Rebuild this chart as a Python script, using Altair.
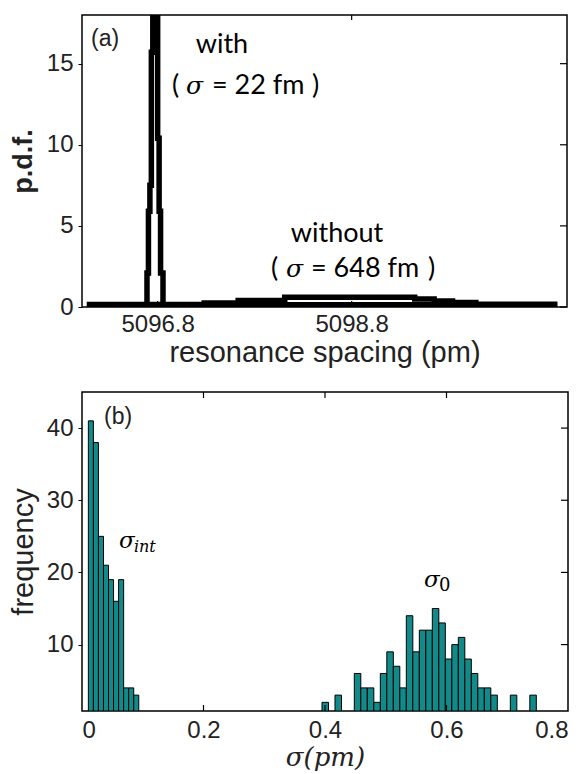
import altair as alt
import pandas as pd

# ---------------- panel (a) data ----------------
a_domain = [5096.02, 5101.02]
a_xticks = [5096.8, 5098.8]
a_yticks = [0, 5, 10, 15]

with_x = [5096.07, 5096.69, 5096.705, 5096.72, 5096.735, 5096.75, 5096.80, 5096.815, 5096.83, 5096.855, 5100.92]
with_y = [0.14, 2.1, 5.9, 7.5, 15.7, 19.0, 10.4, 5.9, 2.1, 0.14, 0.14]
without_x = [5096.07, 5097.28, 5097.63, 5098.11, 5099.45, 5099.65, 5099.84, 5100.08, 5100.92]
without_y = [0.15, 0.25, 0.40, 0.60, 0.50, 0.37, 0.27, 0.17, 0.17]

# ---------------- panel (b) data ----------------
b_xticks = [0, 0.2, 0.4, 0.6, 0.8]
b_yticks = [10, 20, 30, 40]
int_centers = [0.0146, 0.0229, 0.0312, 0.0395, 0.0478, 0.0561, 0.0644, 0.0727, 0.0810, 0.0893]
int_counts = [41, 38, 25, 21, 19, 16, 19, 4, 4, 3]
int_width = 0.0083
zero_centers = [0.4004, 0.4218, 0.4536, 0.4643, 0.4750, 0.4857, 0.4964, 0.5071, 0.5178, 0.5285,
                0.5392, 0.5499, 0.5606, 0.5713, 0.5820, 0.5927, 0.6034, 0.6141, 0.6248, 0.6355,
                0.6462, 0.6569, 0.6676, 0.6783, 0.7104, 0.7425]
zero_counts = [2, 3, 6, 4, 4, 2, 6, 9, 7, 4,
               14, 9, 12, 12, 15, 13, 8, 10, 11, 8,
               6, 4, 4, 3, 3, 3]
zero_width = 0.0107

BAR_COLOR = "#138a8a"
LABEL_COLOR = "#222222"

W_A, H_A = 485, 292
W_B, H_B = 486, 319

# ---------------- shared scales / axes ----------------
xa = alt.Scale(domain=a_domain, nice=False, zero=False)
ya = alt.Scale(domain=[0, 18], nice=False)
xb = alt.Scale(domain=[0, 0.8], nice=False)
yb = alt.Scale(domain=[0.8, 45], nice=False, zero=False)

common = dict(domain=False, grid=False, labelFontSize=24, labelColor=LABEL_COLOR,
              titleColor=LABEL_COLOR, labelFont="Liberation Sans")
ax_xa = alt.Axis(values=a_xticks, format=".1f", title="resonance spacing (pm)", ticks=False,
                 labelPadding=5, titleFontSize=29, titleFontWeight="normal", titlePadding=2,
                 titleFont="Liberation Sans", **common)
ax_ya = alt.Axis(values=a_yticks, title="p.d.f.", tickSize=4, tickColor="black", labelPadding=5,
                 titleFontSize=27, titleFontWeight="bold", titlePadding=9,
                 titleFont="Liberation Sans", **common)
ax_xb = alt.Axis(values=b_xticks, title="σ(pm)", ticks=False, labelPadding=7, titleFontSize=26,
                 titleFont="DejaVu Serif", titleFontStyle="italic", titleFontWeight="normal",
                 titlePadding=2, labelExpr="datum.value == 0 ? '0' : format(datum.value, '.1f')",
                 **common)
ax_yb = alt.Axis(values=b_yticks, title="frequency", tickSize=4, tickColor="black", labelPadding=5,
                 titleFontSize=29, titleFontWeight="normal", titlePadding=8,
                 titleFont="Liberation Sans", **common)

# ---------------- panel (a) ----------------
lines = pd.DataFrame({
    "x": with_x + without_x,
    "y": with_y + without_y,
    "series": ["with"] * len(with_x) + ["without"] * len(without_x),
})

a_lines = alt.Chart(lines).mark_line(
    interpolate="step-after", strokeWidth=5.5, color="black", clip=True
).encode(
    x=alt.X("x:Q", scale=xa, axis=ax_xa),
    y=alt.Y("y:Q", scale=ya, axis=ax_ya),
    detail="series:N",
)

a_xt = pd.DataFrame({"x": a_xticks})
a_yt = pd.DataFrame({"y": a_yticks})
a_tick_bottom = alt.Chart(a_xt).mark_rule(color="black", strokeWidth=1.2).encode(
    x=alt.X("x:Q", scale=xa, axis=ax_xa), y=alt.value(H_A), y2=alt.value(H_A - 6))
a_tick_top = alt.Chart(a_xt).mark_rule(color="black", strokeWidth=1.2).encode(
    x=alt.X("x:Q", scale=xa, axis=ax_xa), y=alt.value(0), y2=alt.value(5))
a_tick_right = alt.Chart(a_yt).mark_rule(color="black", strokeWidth=1.2).encode(
    y=alt.Y("y:Q", scale=ya, axis=ax_ya), x=alt.value(W_A), x2=alt.value(W_A - 7))

a_center = pd.DataFrame({"x": [5097.463, 5098.649], "y": [16.16, 4.49], "text": ["with", "without"]})
a_left = pd.DataFrame({
    "x": [5096.948, 5097.360, 5098.391, 5097.968, 5098.381, 5099.587],
    "y": [13.6, 13.6, 13.6, 2.34, 2.34, 2.34],
    "text": ["(", "= 22 fm", ")", "(", "= 648 fm", ")"],
})
a_sigma = pd.DataFrame({"x": [5097.092, 5098.123], "y": [13.6, 2.34], "text": ["σ", "σ"]})
a_label = pd.DataFrame({"x": [5096.113], "y": [16.53], "text": ["(a)"]})


def txt(df, xs, ys, ax, ay, **kw):
    return alt.Chart(df).mark_text(**kw).encode(
        x=alt.X("x:Q", scale=xs, axis=ax), y=alt.Y("y:Q", scale=ys, axis=ay), text="text:N")


a_text_center = txt(a_center, xa, ya, ax_xa, ax_ya, font="Lato", fontSize=27,
                    baseline="middle", align="center", color="black")
a_text_left = txt(a_left, xa, ya, ax_xa, ax_ya, font="Lato", fontSize=27,
                  baseline="middle", align="left", color="black")
a_text_sigma = txt(a_sigma, xa, ya, ax_xa, ax_ya, font="DejaVu Serif", fontStyle="italic",
                   fontSize=25, baseline="middle", align="left", color="black")
a_text_label = txt(a_label, xa, ya, ax_xa, ax_ya, font="Liberation Sans", fontSize=23,
                   baseline="middle", align="left", color=LABEL_COLOR)

top = alt.layer(a_lines, a_tick_bottom, a_tick_top, a_tick_right,
                a_text_center, a_text_left, a_text_sigma, a_text_label
                ).properties(width=W_A, height=H_A)

# ---------------- panel (b) ----------------
bars = pd.DataFrame({
    "x": [c - int_width / 2 for c in int_centers] + [c - zero_width / 2 for c in zero_centers],
    "x2": [c + int_width / 2 for c in int_centers] + [c + zero_width / 2 for c in zero_centers],
    "y": int_counts + zero_counts,
})

b_bars = alt.Chart(bars).mark_bar(
    color=BAR_COLOR, stroke="black", strokeWidth=1, clip=True
).encode(
    x=alt.X("x:Q", scale=xb, axis=ax_xb),
    x2="x2:Q",
    y=alt.Y("y:Q", scale=yb, axis=ax_yb),
    y2=alt.datum(0.8),
)

b_xt = pd.DataFrame({"x": [0.2, 0.4, 0.6]})
b_yt = pd.DataFrame({"y": b_yticks})
b_tick_bottom = alt.Chart(b_xt).mark_rule(color="black", strokeWidth=1.2).encode(
    x=alt.X("x:Q", scale=xb, axis=ax_xb), y=alt.value(H_B), y2=alt.value(H_B - 6))
b_tick_top = alt.Chart(b_xt).mark_rule(color="black", strokeWidth=1.2).encode(
    x=alt.X("x:Q", scale=xb, axis=ax_xb), y=alt.value(0), y2=alt.value(6))
b_tick_right = alt.Chart(b_yt).mark_rule(color="black", strokeWidth=1.2).encode(
    y=alt.Y("y:Q", scale=yb, axis=ax_yb), x=alt.value(W_B), x2=alt.value(W_B - 7))

b_label = pd.DataFrame({"x": [0.0362], "y": [41.56], "text": ["(b)"]})
b_sigma = pd.DataFrame({"x": [0.0609, 0.563], "y": [23.4, 17.99], "text": ["σ", "σ"]})
b_sub_it = pd.DataFrame({"x": [0.0855], "y": [22.8], "text": ["int"]})
b_sub_0 = pd.DataFrame({"x": [0.5877], "y": [17.43], "text": ["0"]})

b_text_label = txt(b_label, xb, yb, ax_xb, ax_yb, font="Liberation Sans", fontSize=23,
                   baseline="middle", align="left", color=LABEL_COLOR)
b_text_sigma = txt(b_sigma, xb, yb, ax_xb, ax_yb, font="DejaVu Serif", fontStyle="italic",
                   fontSize=23, baseline="alphabetic", align="left", color="black")
b_text_int = txt(b_sub_it, xb, yb, ax_xb, ax_yb, font="DejaVu Serif", fontStyle="italic",
                 fontSize=16, baseline="alphabetic", align="left", color="black")
b_text_0 = txt(b_sub_0, xb, yb, ax_xb, ax_yb, font="DejaVu Serif", fontSize=18,
               baseline="alphabetic", align="left", color="black")

bottom = alt.layer(b_bars, b_tick_bottom, b_tick_top, b_tick_right,
                   b_text_label, b_text_sigma, b_text_int, b_text_0
                   ).properties(width=W_B, height=H_B)

chart = alt.vconcat(top, bottom, spacing=22).configure(
    padding={"left": 0, "top": 5, "right": 5, "bottom": 0},
    background="white",
).configure_view(stroke="black", strokeWidth=1.5)

chart.save("out.html", embed_options={"renderer": "svg", "actions": False})
